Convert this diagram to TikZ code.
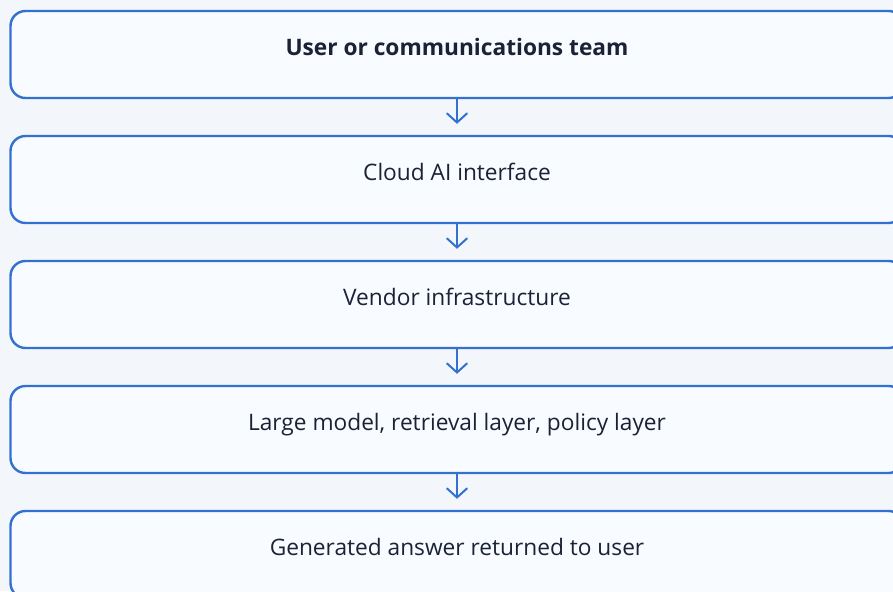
\documentclass[tikz,border=0pt]{standalone}
\usepackage{fontspec}
\setmainfont{Open Sans}
\usetikzlibrary{arrows.meta}
\definecolor{pagebg}{HTML}{F3F6FB}
\definecolor{boxfill}{HTML}{F8FBFF}
\definecolor{boxline}{HTML}{3271D0}
\definecolor{ink}{HTML}{1B2235}
\tikzset{
  stagebox/.style={draw=boxline, fill=boxfill, line width=2.4pt, rounded corners=15pt,
    minimum width=893pt, minimum height=87pt, inner sep=0pt},
  stagetext/.style={anchor=base, text=ink, font=\fontsize{22.7}{26}\selectfont, inner sep=0pt},
  flow/.style={draw=boxline, line width=2pt,
    -{Straight Barb[length=9pt,width=20pt,line cap=round]}}
}
\begin{document}
\begin{tikzpicture}[x=1pt,y=1pt]
  \useasboundingbox (0,0) rectangle (893,-591);
  \fill[pagebg] (0,0) rectangle (893,-591);
  \clip (0,0) rectangle (893,-591);
  % five stacked stages, 125pt apart
  \foreach \i/\txt in {1/{\bfseries User or communications team},
                       2/{Cloud AI interface},
                       3/{Vendor infrastructure},
                       4/{Large model, retrieval layer, policy layer},
                       5/{Generated answer returned to user}} {
    \node[stagebox] (b\i) at (457, {-(11+125*(\i-1)+43.5)}) {};
    \node[stagetext] (t\i) at ([yshift=-45.5pt]b\i.north) {\txt};
  }
  % connectors between consecutive stages
  \foreach \i/\j in {1/2,2/3,3/4,4/5} {
    \draw[flow] (b\i.south) -- ([yshift=11pt]b\j.north);
  }
\end{tikzpicture}
\end{document}
